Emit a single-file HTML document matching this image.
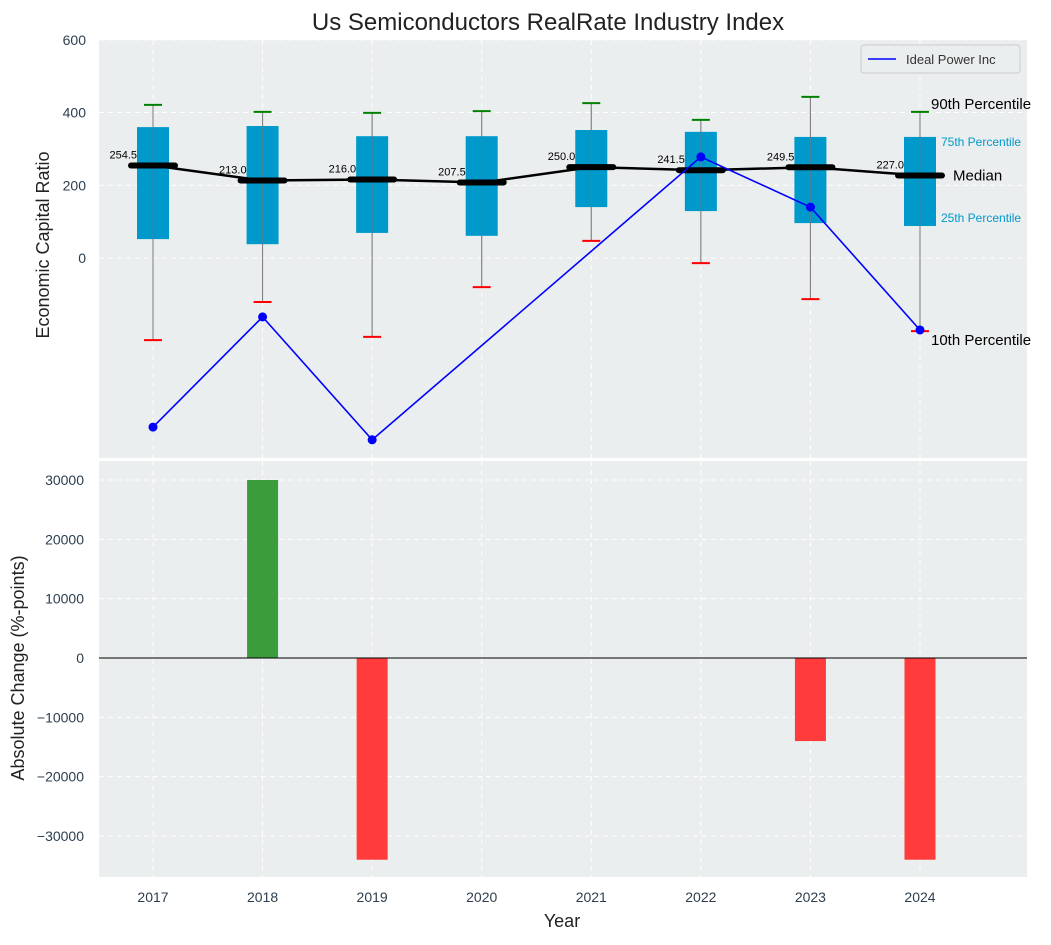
<!DOCTYPE html>
<html><head><meta charset="utf-8"><style>
body{margin:0;background:#fff;font-family:"Liberation Sans",sans-serif}
svg text{font-family:"Liberation Sans",sans-serif}
</style></head><body>
<svg id="c" width="1051" height="940"></svg>
<script>
const years=[2017,2018,2019,2020,2021,2022,2023,2024];
const p90=[421,402,399,404,426,380,443,402];
const q3=[360,363,335,335,352,347,333,333];
const med=[254.5,213.0,216.0,207.5,250.0,241.5,249.5,227.0];
const q1=[52,38,69,61,140,129,96,88];
const p10=[-226,-121,-217,-80,47,-14,-113,-201];
const company=[-465,-162,-500,null,null,278,140,-198];
const changes=[0,30000,-34000,0,0,0,-14000,-34000];
const topTicks=[0,200,400,600];
const botTicks=[-30000,-20000,-10000,0,10000,20000,30000];

const NS='http://www.w3.org/2000/svg';
const svg=document.getElementById('c');
function el(t,a,txt){const e=document.createElementNS(NS,t);for(const k in a)e.setAttribute(k,a[k]);if(txt!=null)e.textContent=txt;svg.appendChild(e);return e;}
const X=i=>153+i*109.57;
const YT=v=>258-v*0.3636;
const YB=v=>658-v*0.005933;
const L=99,R=1027;
const fmt=t=>t<0?'\u2212'+(-t):String(t);

el('text',{x:548,y:30,'font-size':24,'text-anchor':'middle',fill:'#222'},'Us Semiconductors RealRate Industry Index');
let p=el('rect',{x:L,y:40,width:R-L,height:418,fill:'#eaeeee'});
p=el('rect',{x:L,y:461,width:R-L,height:416,fill:'#eaeeee'});
topTicks.forEach(t=>{el('line',{x1:L,x2:R,y1:YT(t),y2:YT(t),stroke:'#fff','stroke-dasharray':'5,4'});
 let e=el('text',{x:86,y:YT(t)+5,'font-size':14,'text-anchor':'end',fill:'#2d3e50'},fmt(t));});
botTicks.forEach(t=>{el('line',{x1:L,x2:R,y1:YB(t),y2:YB(t),stroke:'#fff','stroke-dasharray':'5,4'});
 let e=el('text',{x:84,y:YB(t)+5,'font-size':14,'text-anchor':'end',fill:'#2d3e50'},fmt(t));});
years.forEach((y,i)=>{el('line',{x1:X(i),x2:X(i),y1:40,y2:458,stroke:'#fff','stroke-dasharray':'5,4'});
 el('line',{x1:X(i),x2:X(i),y1:461,y2:877,stroke:'#fff','stroke-dasharray':'5,4'});
 let e=el('text',{x:X(i),y:902,'font-size':14,'text-anchor':'middle',fill:'#2d3e50'},y);});
years.forEach((y,i)=>{const x=X(i);
 el('line',{x1:x,x2:x,y1:YT(p90[i]),y2:YT(p10[i]),stroke:'#888','stroke-width':1});
 let b=el('rect',{x:x-16,y:YT(q3[i]),width:32,height:YT(q1[i])-YT(q3[i]),fill:'#0099cc'});
 el('line',{x1:x,x2:x,y1:YT(p90[i]),y2:YT(p10[i]),stroke:'#777','stroke-width':1,opacity:0.6});
 el('line',{x1:x-9,x2:x+9,y1:YT(p90[i]),y2:YT(p90[i]),stroke:'green','stroke-width':2});
 el('line',{x1:x-9,x2:x+9,y1:YT(p10[i]),y2:YT(p10[i]),stroke:'red','stroke-width':2});
});
let d=years.map((y,i)=>(i?'L':'M')+X(i)+','+YT(med[i])).join(' ');
el('path',{d:d,stroke:'#000','stroke-width':2.5,fill:'none'});
years.forEach((y,i)=>{const x=X(i);
 let m=el('line',{x1:x-22,x2:x+22,y1:YT(med[i]),y2:YT(med[i]),stroke:'#000','stroke-width':6,'stroke-linecap':'round'});
 el('text',{x:x-16,y:YT(med[i])-7,'font-size':11,'text-anchor':'end',fill:'#000'},med[i].toFixed(1));
});
const pts=[];company.forEach((v,i)=>{if(v!=null)pts.push([X(i),YT(v)]);});
el('path',{d:pts.map((q,i)=>(i?'L':'M')+q[0]+','+q[1]).join(' '),stroke:'blue','stroke-width':1.6,fill:'none'});
pts.forEach(q=>{let c=el('circle',{cx:q[0],cy:q[1],r:4.5,fill:'blue'});});
const xa=X(7)+11;
el('text',{x:xa,y:YT(p90[7])-3,'font-size':15,fill:'#000'},'90th Percentile');
el('text',{x:xa+10,y:YT(q3[7])+9,'font-size':12,fill:'#0099cc'},'75th Percentile');
el('text',{x:xa+22,y:YT(med[7])+5,'font-size':15,fill:'#000'},'Median');
el('text',{x:xa+10,y:YT(q1[7])-4,'font-size':12,fill:'#0099cc'},'25th Percentile');
el('text',{x:xa,y:YT(p10[7])+14,'font-size':15,fill:'#000'},'10th Percentile');
let lg=el('rect',{x:861,y:45,width:159,height:28,fill:'#eaeeee',stroke:'#ccc',rx:3});
el('line',{x1:868,x2:896,y1:59,y2:59,stroke:'blue','stroke-width':1.6});
el('text',{x:906,y:64,'font-size':13,fill:'#333'},'Ideal Power Inc');
changes.forEach((v,i)=>{if(!v)return;const y0=YB(0),y1=YB(v);
 let b=el('rect',{x:X(i)-15.5,y:Math.min(y0,y1),width:31,height:Math.abs(y1-y0),fill:v>0?'#3a9c3a':'#ff3b3b'});});
el('line',{x1:L,x2:R,y1:YB(0),y2:YB(0),stroke:'#000','stroke-width':1});
el('text',{x:0,y:0,'font-size':18,'text-anchor':'middle',fill:'#222',transform:'translate(49,245) rotate(-90)'},'Economic Capital Ratio');
el('text',{x:0,y:0,'font-size':18,'text-anchor':'middle',fill:'#222',transform:'translate(24,668) rotate(-90)'},'Absolute Change (%-points)');
el('text',{x:562,y:927,'font-size':18,'text-anchor':'middle',fill:'#222'},'Year');
</script>
</body></html>
